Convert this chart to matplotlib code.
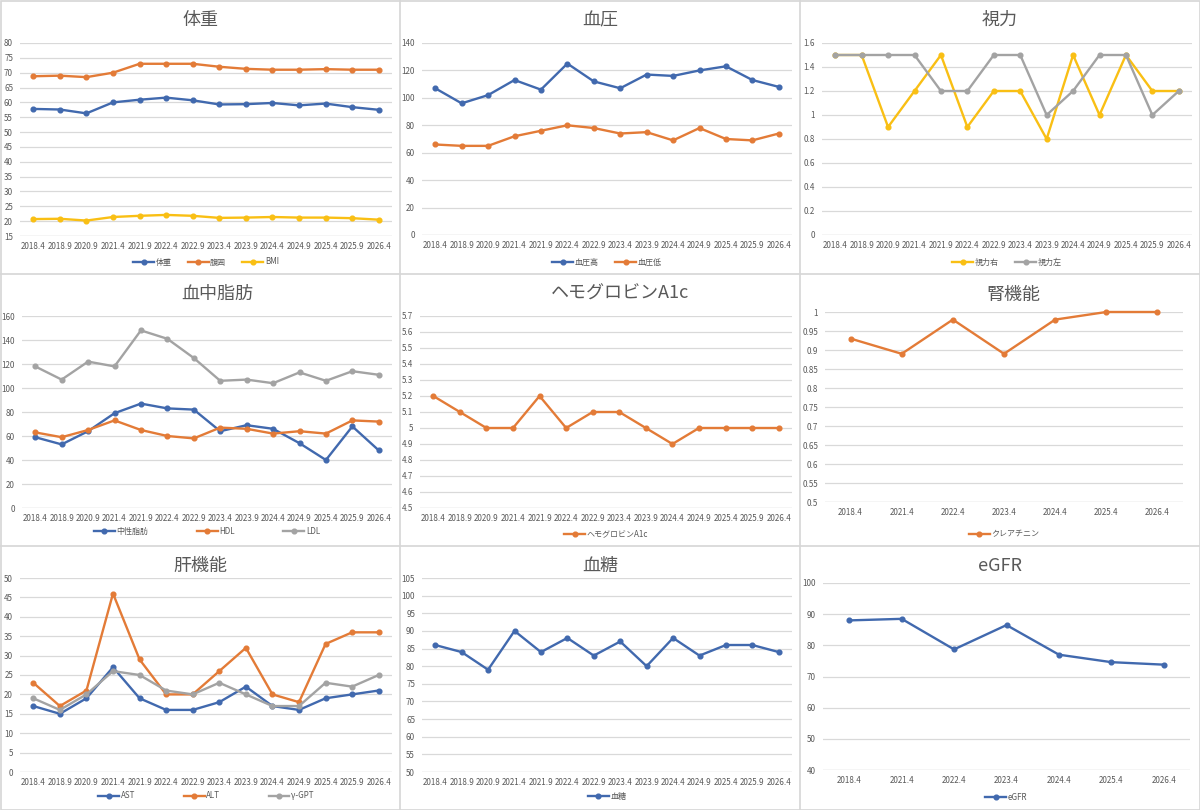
import matplotlib
matplotlib.use('Agg')
import matplotlib.pyplot as plt
from matplotlib.lines import Line2D
from matplotlib.patches import Rectangle

plt.rcParams['font.family'] = ['Noto Sans CJK JP', 'DejaVu Sans']

# 健診データ
dates = ["2018.4", "2018.9", "2020.9", "2021.4", "2021.9", "2022.4", "2022.9",
         "2023.4", "2023.9", "2024.4", "2024.9", "2025.4", "2025.9", "2026.4"]
dates_kidney = ["2018.4", "2021.4", "2022.4", "2023.4", "2024.4", "2025.4", "2026.4"]

weight = [57.8, 57.6, 56.3, 60.0, 60.9, 61.6, 60.7, 59.3, 59.4, 59.8, 59.0, 59.6, 58.4, 57.5]
waist = [68.8, 69.0, 68.5, 70.0, 73.0, 73.0, 73.0, 72.0, 71.3, 71.0, 71.0, 71.2, 71.0, 71.0]
bmi = [20.7, 20.8, 20.2, 21.4, 21.8, 22.1, 21.8, 21.1, 21.2, 21.4, 21.2, 21.2, 21.0, 20.5]

bp_high = [107, 96, 102, 113, 106, 125, 112, 107, 117, 116, 120, 123, 113, 108]
bp_low = [66, 65, 65, 72, 76, 80, 78, 74, 75, 69, 78, 70, 69, 74]

eye_right = [1.5, 1.5, 0.9, 1.2, 1.5, 0.9, 1.2, 1.2, 0.8, 1.5, 1.0, 1.5, 1.2, 1.2]
eye_left = [1.5, 1.5, 1.5, 1.5, 1.2, 1.2, 1.5, 1.5, 1.0, 1.2, 1.5, 1.5, 1.0, 1.2]

tg = [59, 53, 64, 79, 87, 83, 82, 64, 69, 66, 54, 40, 68, 48]
hdl = [63, 59, 65, 73, 65, 60, 58, 67, 66, 62, 64, 62, 73, 72]
ldl = [118, 107, 122, 118, 148, 141, 125, 106, 107, 104, 113, 106, 114, 111]

hba1c = [5.2, 5.1, 5.0, 5.0, 5.2, 5.0, 5.1, 5.1, 5.0, 4.9, 5.0, 5.0, 5.0, 5.0]

creatinine = [0.93, 0.89, 0.98, 0.89, 0.98, 1.0, 1.0]

ast = [17, 15, 19, 27, 19, 16, 16, 18, 22, 17, 16, 19, 20, 21]
alt = [23, 17, 21, 46, 29, 20, 20, 26, 32, 20, 18, 33, 36, 36]
ggt = [19, 16, 20, 26, 25, 21, 20, 23, 20, 17, 17, 23, 22, 25]

glucose = [86, 84, 79, 90, 84, 88, 83, 87, 80, 88, 83, 86, 86, 84]

egfr = [88.0, 88.5, 78.7, 86.5, 77.0, 74.6, 73.8]

BLUE = "#4169AE"
ORANGE = "#E37B37"
GRAY = "#A3A3A3"
YELLOW = "#F9BF14"
TXT = "#595959"

W, H = 1200, 810
fig = plt.figure(figsize=(12, 8.1), dpi=100)
fig.patch.set_facecolor('white')

# パネルの区切り線
SEP = "#D6D6D6"
fig.patches.append(Rectangle((0.5 / W, 0.5 / H), 1 - 1 / W, 1 - 1 / H,
                             transform=fig.transFigure, fill=False,
                             edgecolor=SEP, linewidth=1.2))
for xv in (400, 800):
    fig.lines.append(Line2D([xv / W, xv / W], [0, 1], transform=fig.transFigure,
                            color=SEP, lw=1.2))
for yv in (274, 546):
    fig.lines.append(Line2D([0, 1], [1 - yv / H, 1 - yv / H], transform=fig.transFigure,
                            color=SEP, lw=1.2))


def panel(box, title, title_xy, cats, series, ylim, yticks, yfmt, legend_y, leg_gap=2.0):
    l, t, r, b = box
    ax = fig.add_axes([l / W, 1 - b / H, (r - l) / W, (b - t) / H])
    x = list(range(len(cats)))
    for label, vals, color in series:
        ax.plot(x, vals, color=color, lw=1.7, marker='o', ms=3.4, label=label, clip_on=False)
    ax.set_xlim(-0.5, len(cats) - 0.5)
    ax.set_ylim(*ylim)
    ax.set_yticks(yticks)
    ax.set_yticklabels([yfmt(v) for v in yticks])
    ax.set_xticks(x)
    ax.set_xticklabels(cats)
    ax.tick_params(length=0, labelsize=5.8, labelcolor=TXT, pad=4)
    ax.tick_params(axis='y', pad=5)
    ax.grid(axis='y', color="#D9D9D9", lw=0.9)
    ax.set_axisbelow(True)
    for s in ax.spines.values():
        s.set_visible(False)
    ax.axhline(ylim[0], color="#D9D9D9", lw=0.9, zorder=0)
    fig.text(title_xy[0] / W, 1 - title_xy[1] / H, title, ha='center', va='center',
             fontsize=13, color=TXT)
    cx = (l + r) / 2
    ax.legend(loc='center', bbox_to_anchor=(cx / W, 1 - legend_y / H),
              bbox_transform=fig.transFigure, ncol=len(series), frameon=False,
              fontsize=5.8, labelcolor=TXT, handlelength=2.6, columnspacing=leg_gap,
              handletextpad=0.2)
    return ax


def fmt_int(v):
    return f"{v:g}"


panel((20, 43, 392, 236), "体重", (200, 20), dates,
      [("体重", weight, BLUE), ("腹囲", waist, ORANGE), ("BMI", bmi, YELLOW)],
      (15, 80), list(range(15, 81, 5)), fmt_int, 262)

panel((422, 43, 792, 235), "血圧", (600, 20), dates,
      [("血圧高", bp_high, BLUE), ("血圧低", bp_low, ORANGE)],
      (0, 140), list(range(0, 141, 20)), fmt_int, 262)

panel((822, 43, 1192, 235), "視力", (1000, 20), dates,
      [("視力右", eye_right, YELLOW), ("視力左", eye_left, GRAY)],
      (0, 1.6), [0, 0.2, 0.4, 0.6, 0.8, 1.0, 1.2, 1.4, 1.6], fmt_int, 262)

panel((22, 316, 392, 508), "血中脂肪", (217, 294), dates,
      [("中性脂肪", tg, BLUE), ("HDL", hdl, ORANGE), ("LDL", ldl, GRAY)],
      (0, 160), list(range(0, 161, 20)), fmt_int, 531, leg_gap=6.0)

panel((420, 316, 792, 508), "ヘモグロビンA1c", (620, 294), dates,
      [("ヘモグロビンA1c", hba1c, ORANGE)],
      (4.5, 5.7), [4.5 + 0.1 * i for i in range(13)], lambda v: f"{round(v, 1):g}", 534)

panel((825, 312, 1183, 502), "腎機能", (1013, 295), dates_kidney,
      [("クレアチニン", creatinine, ORANGE)],
      (0.5, 1.0), [0.5 + 0.05 * i for i in range(11)], lambda v: f"{round(v, 2):g}", 534)

panel((20, 578, 392, 772), "肝機能", (200, 566), dates,
      [("AST", ast, BLUE), ("ALT", alt, ORANGE), ("γ-GPT", ggt, GRAY)],
      (0, 50), list(range(0, 51, 5)), fmt_int, 796, leg_gap=6.0)

panel((422, 578, 792, 772), "血糖", (600, 566), dates,
      [("血糖", glucose, BLUE)],
      (50, 105), list(range(50, 106, 5)), fmt_int, 796)

panel((823, 583, 1190, 770), "eGFR", (1000, 566), dates_kidney,
      [("eGFR", egfr, BLUE)],
      (40, 100), list(range(40, 101, 10)), fmt_int, 797)

fig.savefig("out.png", dpi=100, facecolor='white')
